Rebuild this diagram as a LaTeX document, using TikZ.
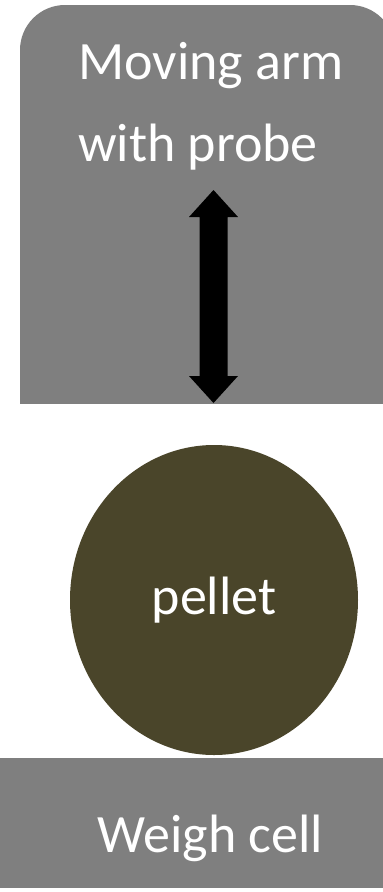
\documentclass[tikz,border=0pt]{standalone}
\usepackage{fontspec}
\setmainfont{Carlito}
\usetikzlibrary{shapes.geometric}
\definecolor{boxgray}{RGB}{127,127,127}
\definecolor{pelletbrown}{RGB}{74,69,42}
\begin{document}
\begin{tikzpicture}[x=1pt,y=-1pt,
  lbl/.style={text=white,font=\fontsize{54}{82}\selectfont,inner sep=0pt},
  pelletshape/.style={ellipse,fill=pelletbrown,inner sep=0pt,minimum width=288pt,minimum height=310pt},
  armbox/.style={fill=boxgray,rounded corners=45pt},
]
\useasboundingbox[fill=white] (0,0) rectangle (383,892);
% moving arm box (top corners rounded, extends past the right edge)
\begin{scope}
  \clip (0,0) rectangle (383,403);
  \path[armbox] (20,5) rectangle (395,520);
\end{scope}
\node[lbl,anchor=base west] (armtext1) at (78,79) {Moving arm};
\node[lbl,anchor=base west] (armtext2) at (78,161) {with probe};
% double-headed arrow
\coordinate (armtop) at (213.5,190);
\coordinate (armbot) at (213.5,403);
\fill[black] (armtop) -- ++(24.5,27) -- ++(-10.5,0) -- ++(0,159) -- ++(10.5,0)
  -- (armbot) -- ++(-24.5,-27) -- ++(10.5,0) -- ++(0,-159) -- ++(-10.5,0) -- cycle;
% pellet
\node[pelletshape,lbl] (pellet) at (214,600) {pellet};
% weigh cell
\fill[boxgray] (0,758) rectangle (383,888);
\node[lbl,anchor=base west] (weigh) at (97,852) {Weigh cell};
\end{tikzpicture}
\end{document}
